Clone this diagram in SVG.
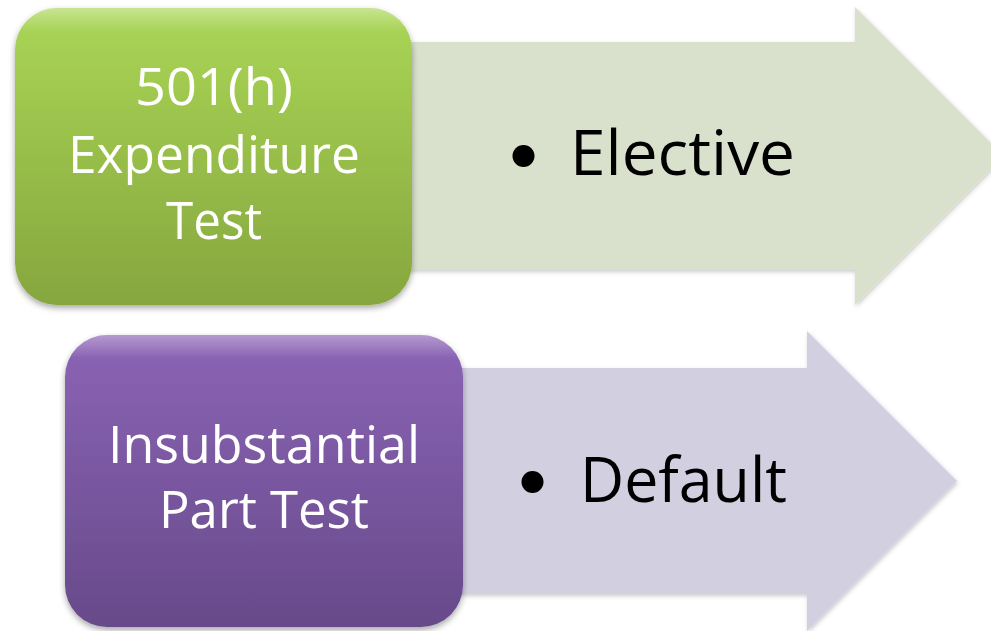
<svg xmlns="http://www.w3.org/2000/svg" width="991" height="631" viewBox="0 0 991 631">
  <defs>
    <linearGradient id="gGreen" x1="0" y1="0" x2="0" y2="1">
      <stop offset="0" stop-color="#aad656"/>
      <stop offset="1" stop-color="#86a63e"/>
    </linearGradient>
    <linearGradient id="gPurple" x1="0" y1="0" x2="0" y2="1">
      <stop offset="0" stop-color="#8c64b6"/>
      <stop offset="1" stop-color="#674a8a"/>
    </linearGradient>
    <linearGradient id="gRim" x1="0" y1="0" x2="0" y2="1">
      <stop offset="0" stop-color="#ffffff" stop-opacity="0.35"/>
      <stop offset="0.08" stop-color="#ffffff" stop-opacity="0"/>
    </linearGradient>
    <filter id="shadow" x="-10%" y="-10%" width="125%" height="125%">
      <feDropShadow dx="0" dy="3" stdDeviation="3" flood-color="#000" flood-opacity="0.35"/>
    </filter>
    <filter id="softShadow" x="-10%" y="-10%" width="125%" height="125%">
      <feDropShadow dx="1" dy="2" stdDeviation="2" flood-color="#000" flood-opacity="0.2"/>
    </filter>
  </defs>
  <style>
    .label { font-family: "Open Sans", "Noto Sans", sans-serif; font-size: 51px; fill: #ffffff; text-anchor: middle; }
    .item { font-family: "Open Sans", "Noto Sans", sans-serif; font-size: 63px; fill: #000000; }
    .bullet { fill: #000000; }
  </style>

  <!-- block arrows carrying the bullet items -->
  <g id="arrows">
    <g id="arrow-elective" filter="url(#softShadow)">
      <path d="M300,42 H855 V7 L1004,156 L855,305 V270 H300 Z" fill="#d9e1cc"/>
      <circle class="bullet" cx="523.5" cy="156" r="11"/>
      <text class="item" x="570" y="175" textLength="225" lengthAdjust="spacingAndGlyphs">Elective</text>
    </g>
    <g id="arrow-default" filter="url(#softShadow)">
      <path d="M350,368 H807 V331 L957,481 L807,631 V594 H350 Z" fill="#d2cfe0"/>
      <circle class="bullet" cx="532.5" cy="482" r="11"/>
      <text class="item" x="580" y="502" textLength="207" lengthAdjust="spacingAndGlyphs">Default</text>
    </g>
  </g>

  <!-- rounded category boxes -->
  <g id="box-expenditure">
    <rect x="15" y="8" width="397" height="297" rx="42" ry="42" fill="url(#gGreen)" filter="url(#shadow)"/>
    <rect x="15" y="8" width="397" height="297" rx="42" ry="42" fill="url(#gRim)"/>
    <text class="label" x="214" y="105" textLength="158" lengthAdjust="spacingAndGlyphs">501(h)</text>
    <text class="label" x="214" y="173" textLength="292" lengthAdjust="spacingAndGlyphs">Expenditure</text>
    <text class="label" x="214" y="239" textLength="96" lengthAdjust="spacingAndGlyphs">Test</text>
  </g>
  <g id="box-insubstantial">
    <rect x="65" y="335" width="398" height="292" rx="42" ry="42" fill="url(#gPurple)" filter="url(#shadow)"/>
    <rect x="65" y="335" width="398" height="292" rx="42" ry="42" fill="url(#gRim)"/>
    <text class="label" x="264" y="463" textLength="312" lengthAdjust="spacingAndGlyphs">Insubstantial</text>
    <text class="label" x="264" y="528" textLength="210" lengthAdjust="spacingAndGlyphs">Part Test</text>
  </g>
</svg>
